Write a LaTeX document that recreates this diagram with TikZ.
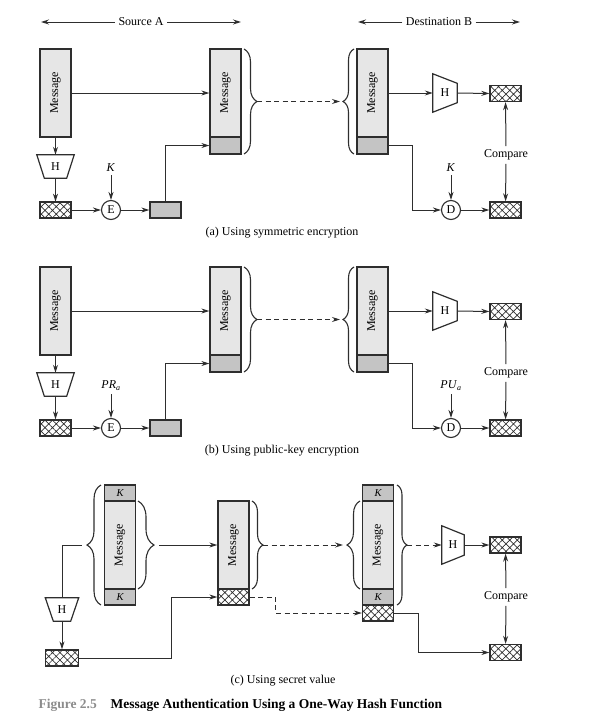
\documentclass[tikz,border=0pt]{standalone}
\usepackage{fontspec}
\setmainfont{Liberation Serif}
\usetikzlibrary{arrows.meta,decorations.pathreplacing,patterns.meta,calc}
\definecolor{msgfill}{HTML}{E6E6E6}
\definecolor{tagfill}{HTML}{C4C4C4}
\definecolor{edge}{HTML}{2E2E2E}
\definecolor{figgray}{HTML}{8C8C8C}
\begin{document}
\begin{tikzpicture}[x=1pt,y=-1pt,
  font=\fontsize{12}{14}\selectfont,
  box/.style={draw=edge,line width=1.3pt,inner sep=0pt,minimum width=31pt},
  msgbox/.style={box,fill=msgfill,minimum height=88pt,label={[rotate=90]center:Message}},
  tagbox/.style={box,fill=tagfill,minimum height=16pt,font=\fontsize{10.5}{12}\selectfont\itshape},
  hashbox/.style={box,minimum height=16pt,pattern={Hatch[angle=45,distance=5.3pt,line width=0.7pt]},pattern color=edge},
  opcircle/.style={circle,draw=edge,line width=1.1pt,minimum size=19pt,inner sep=0pt},
  hnode/.style={inner sep=0pt},
  trap/.style={draw=edge,line width=1.2pt,fill=white},
  conn/.style={draw=edge,line width=1pt,-{Stealth[length=8pt,width=5pt]}},
  plain/.style={draw=edge,line width=1pt},
  dashline/.style={conn,dash pattern=on 5pt off 3.5pt},
  bracestyle/.style={draw=edge,line width=1.1pt,decorate,decoration={brace,amplitude=#1}}]
\useasboundingbox (0,0) rectangle (610,720);

% header
\node (srcA) at (141,22) {Source A};
\coordinate (sl) at (41,22); \coordinate (sr) at (241,22);
\draw[conn] (srcA) -- (sl); \draw[conn] (srcA) -- (sr);
\node (dstB) at (439,22) {Destination B};
\coordinate (dl) at (358,22); \coordinate (dr) at (520,22);
\draw[conn] (dstB) -- (dl); \draw[conn] (dstB) -- (dr);

% panels (a) and (b)
\foreach \oy/\s/\kl/\kr/\cp in {0/a/{\textit{K}}/{\textit{K}}/{(a) Using symmetric encryption},218/b/{\textit{PR}\textsubscript{\textit{a}}}/{\textit{PU}\textsubscript{\textit{a}}}/{(b) Using public-key encryption}}{
\begin{scope}[yshift=-\oy pt]
 \node[msgbox] (m1\s) at (55.5,93) {};
 \node[hnode,minimum width=37pt,minimum height=23pt] (h1\s) at (55.5,166.5) {H};
 \draw[trap] (h1\s.north west) -- (h1\s.north east) -- ($(h1\s.south east)+(-7.5,0)$) -- ($(h1\s.south west)+(7.5,0)$) -- cycle;
 \node at (h1\s) {H};
 \node[hashbox] (x1\s) at (55.5,210) {};
 \node[opcircle] (e\s) at (111,210) {E};
 \node (k1\s) at (111,168) {\kl};
 \node[tagbox] (g1\s) at (165.5,210) {};
 \node[msgbox] (m2\s) at (225.5,93) {};
 \node[tagbox,minimum height=17pt] (g2\s) at (225.5,145.5) {};
 \draw[bracestyle=13pt] (244,49) -- (244,154);
 \coordinate (b1\s) at (257,101.5);
 \draw[bracestyle=11pt] (354,154) -- (354,49);
 \coordinate (b2\s) at (343,101.5);
 \node[msgbox] (m3\s) at (372.5,93) {};
 \node[tagbox,minimum height=17pt] (g3\s) at (372.5,145.5) {};
 \node[hnode,minimum width=24pt,minimum height=38pt] (h2\s) at (445,93) {H};
 \draw[trap] (h2\s.north west) -- ($(h2\s.north east)+(0,9.5)$) -- ($(h2\s.south east)+(0,-9.5)$) -- (h2\s.south west) -- cycle;
 \node at (h2\s) {H};
 \node[hashbox] (x2\s) at (505.5,93.5) {};
 \node (cmp\s) at (506,155) {Compare};
 \node[hashbox] (x3\s) at (505.5,210) {};
 \node[opcircle] (d\s) at (451,210) {D};
 \node (k2\s) at (451,168) {\kr};
 \node (cap\s) at (282,233) {\cp};
 \draw[conn] (m1\s.south) -- (h1\s.north);
 \draw[conn] (h1\s.south) -- (x1\s.north);
 \draw[conn] (x1\s) -- (e\s);
 \draw[conn] (k1\s) -- (e\s);
 \draw[conn] (e\s) -- (g1\s);
 \draw[conn] (g1\s.north) |- (g2\s.west);
 \draw[conn] (m1\s.east) -- (m2\s.west);
 \draw[dashline,shorten >=3pt] (b1\s) -- (b2\s);
 \draw[conn] (m3\s.east) -- (h2\s.west);
 \draw[conn] (h2\s.east) -- (x2\s.west);
 \draw[conn] (g3\s.east) -- ++(24,0) |- (d\s.west);
 \draw[conn] (d\s) -- (x3\s);
 \draw[conn] (k2\s) -- (d\s);
 \draw[conn] (cmp\s) -- (x2\s);
 \draw[conn] (cmp\s) -- (x3\s);
\end{scope}}

% panel (c)
\node[tagbox] (kc1) at (120,493) {K};
\node[msgbox] (mc1) at (120,545) {};
\node[tagbox] (kc2) at (120,597) {K};
\draw[bracestyle=14pt] (101,605) -- (101,485);
\coordinate (bc1) at (86,545);
\draw[bracestyle=16pt] (138,501) -- (138,589);
\coordinate (bc2) at (154,545);
\node[hnode,minimum width=33pt,minimum height=23pt] (hc1) at (62,609.5) {H};
\draw[trap] (hc1.north west) -- (hc1.north east) -- ($(hc1.south east)+(-8,0)$) -- ($(hc1.south west)+(8,0)$) -- cycle;
\node at (hc1) {H};
\node[hashbox,minimum width=33pt] (xc1) at (62,658) {};
\coordinate (hin) at (82,545);
\draw[plain] (hc1.north) |- (hin);
\draw[conn] (hc1.south) -- (xc1.north);
\node[msgbox] (mc2) at (233.5,545) {};
\node[hashbox] (xc2) at (233.5,597) {};
\draw[conn,shorten <=5pt] (bc2) -- (mc2.west);
\draw[conn] (xc1.east) -- ++(92,0) |- (xc2.west);
\draw[bracestyle=11pt] (252,501) -- (252,589);
\coordinate (bc3) at (263,545);
\node[tagbox] (kc3) at (378,493) {K};
\node[msgbox] (mc3) at (378,545) {};
\node[tagbox] (kc4) at (378,597) {K};
\node[hashbox] (xc3) at (378,613) {};
\draw[bracestyle=13pt] (360,589) -- (360,501);
\coordinate (bc4) at (347,545);
\draw[bracestyle=10pt] (397,485) -- (397,605);
\coordinate (bc5) at (407,545);
\draw[dashline,shorten >=4pt] (bc3) -- (bc4);
\draw[dashline] (xc2.east) -- ++(26,0) |- (xc3.west);
\node[hnode,minimum width=22pt,minimum height=38pt] (hc2) at (453,545) {H};
\draw[trap] (hc2.north west) -- ($(hc2.north east)+(0,9)$) -- ($(hc2.south east)+(0,-9)$) -- (hc2.south west) -- cycle;
\node at (hc2) {H};
\draw[dashline] (bc5) -- (hc2.west);
\node[hashbox] (xc4) at (505.5,545) {};
\node (cmpc) at (506,597) {Compare};
\node[hashbox] (xc5) at (505.5,652.5) {};
\draw[conn] (hc2.east) -- (xc4.west);
\draw[conn] (cmpc) -- (xc4);
\draw[conn] (cmpc) -- (xc5);
\draw[conn] (xc3.east) -- ++(24,0) |- (xc5.west);
\node (capc) at (283,681) {(c) Using secret value};

% figure caption
\node[anchor=west,text=figgray,font=\fontsize{13.5}{15}\selectfont\bfseries] (fignum) at (35,705) {Figure 2.5};
\node[anchor=west,font=\fontsize{13.5}{15}\selectfont\bfseries] (figtitle) at (107,705) {Message Authentication Using a One-Way Hash Function};
\end{tikzpicture}
\end{document}
